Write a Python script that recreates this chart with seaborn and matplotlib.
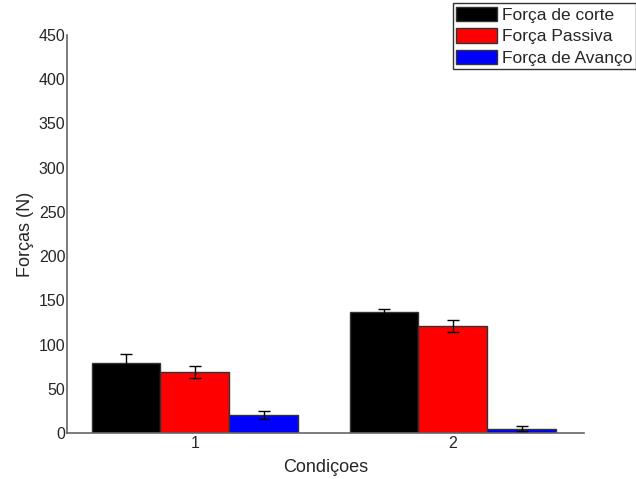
import matplotlib
matplotlib.use("Agg")
import matplotlib.pyplot as plt
import seaborn as sns
import pandas as pd
import numpy as np
from matplotlib.patches import Patch

conditions = ["1", "2"]
series = ["Força de corte", "Força Passiva", "Força de Avanço"]
corte = [79, 136.5]
passiva = [69, 121]
avanco = [20, 5]
corte_err = [10, 3.5]
passiva_err = [7, 7]
avanco_err = [4.5, 3]
colors = ["#000000", "#ff0000", "#0000ff"]
yticks = [0, 50, 100, 150, 200, 250, 300, 350, 400, 450]

sns.set_style("white")
plt.rcParams["font.family"] = ["Liberation Sans", "DejaVu Sans"]

values = [corte, passiva, avanco]
errs = [corte_err, passiva_err, avanco_err]
rows = []
for s, vals in zip(series, values):
    for c, v in zip(conditions, vals):
        rows.append({"Condição": c, "Série": s, "Valor": v})
df = pd.DataFrame(rows)

fig = plt.figure(figsize=(6.36, 4.79), dpi=100)
ax = fig.add_axes([0.105, 0.096, 0.813, 0.831])

sns.barplot(data=df, x="Condição", y="Valor", hue="Série", hue_order=series,
            order=conditions, palette=colors, width=0.8, errorbar=None,
            edgecolor="#333333", linewidth=1, saturation=1, ax=ax, legend=False)

# error bars at bar centers
for container, err in zip(ax.containers, errs):
    xs = [p.get_x() + p.get_width() / 2 for p in container.patches]
    hs = [p.get_height() for p in container.patches]
    ax.errorbar(xs, hs, yerr=err, fmt="none", ecolor="black", elinewidth=1,
                capsize=4, capthick=1, zorder=5)

ax.set_xlim(-0.496, 1.508)
ax.set_ylim(0, 450)
ax.set_yticks(yticks)
ax.set_yticklabels([str(t) for t in yticks])
ax.tick_params(axis="both", length=0, labelsize=11.5, pad=1)
ax.tick_params(axis="x", pad=2)
for side in ["top", "right"]:
    ax.spines[side].set_visible(False)
for side in ["left", "bottom"]:
    ax.spines[side].set_color("#666666")
    ax.spines[side].set_linewidth(1.2)

ax.set_xlabel("Condiçoes", fontsize=13, labelpad=6)
ax.set_ylabel("Forças (N)", fontsize=13, labelpad=3)

handles = [Patch(facecolor=c, edgecolor="#333333", linewidth=1) for c in colors]
leg = fig.legend(handles, series, loc="upper right", bbox_to_anchor=(1.0, 0.993),
                 fontsize=12.5, frameon=True, fancybox=False, borderpad=0.2,
                 handlelength=2.35, handleheight=0.9, handletextpad=0.3,
                 labelspacing=0.3, borderaxespad=0)
leg.get_frame().set_edgecolor("black")
leg.get_frame().set_linewidth(1)

fig.savefig("out.png", dpi=100)
